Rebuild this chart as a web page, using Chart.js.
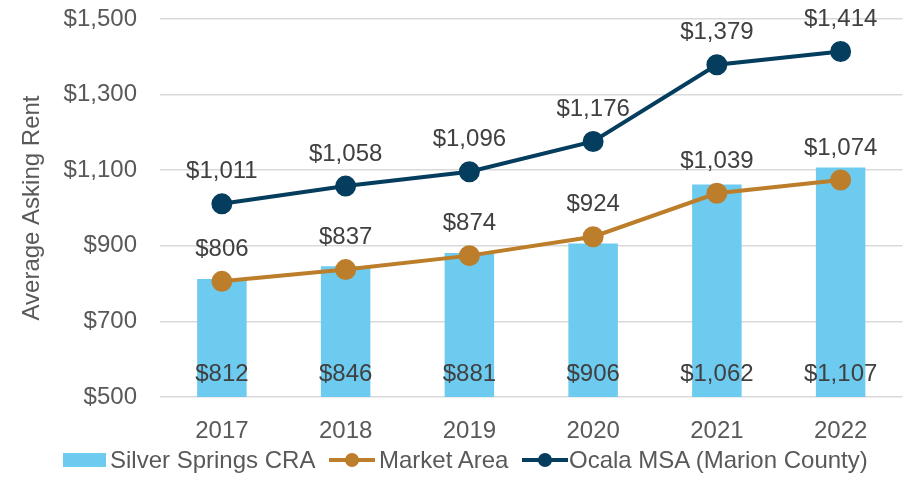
<!DOCTYPE html>
<html><head><meta charset="utf-8">
<script src="https://cdn.jsdelivr.net/npm/chart.js@4/dist/chart.umd.min.js"></script>
<style>
html,body{margin:0;padding:0;background:#fff;}
#wrap{position:relative;width:915px;height:477px;}
#legend{position:absolute;left:0;top:446px;width:915px;height:28px;font-family:"Liberation Sans",Arial,sans-serif;font-size:24px;color:#595959;white-space:nowrap;}
.li{position:absolute;top:0;height:28px;line-height:28px;}
.sw{position:absolute;}
</style></head><body>
<div id="wrap"><canvas id="c" width="915" height="477"></canvas>
<div id="legend">
 <div class="sw" style="left:63px;top:7px;width:43px;height:14px;background:#6DCBF0"></div>
 <div class="li" style="left:110px">Silver Springs CRA</div>
 <div class="sw" style="left:329px;top:12px;width:46px;height:4px;background:#BC7E2A"></div>
 <div class="sw" style="left:345px;top:7px;width:14px;height:14px;border-radius:7px;background:#BC7E2A"></div>
 <div class="li" style="left:379px">Market Area</div>
 <div class="sw" style="left:522px;top:12px;width:46px;height:4px;background:#053D5E"></div>
 <div class="sw" style="left:538px;top:7px;width:14px;height:14px;border-radius:7px;background:#053D5E"></div>
 <div class="li" style="left:569px">Ocala MSA (Marion County)</div>
</div></div>
<script>
const categories = ["2017","2018","2019","2020","2021","2022"];
const silverSprings = [812, 846, 881, 906, 1062, 1107];
const marketArea = [806, 837, 874, 924, 1039, 1074];
const ocalaMSA = [1011, 1058, 1096, 1176, 1379, 1414];
const yTicks = [500, 700, 900, 1100, 1300, 1500];

const fmt = v => "$" + v.toLocaleString("en-US");
const FONT = '"Liberation Sans", Arial, sans-serif';
const FS = 24;

const labelPlugin = {
  id: "labels",
  afterDatasetsDraw(chart) {
    const ctx = chart.ctx;
    ctx.save();
    ctx.font = FS + "px " + FONT;
    ctx.fillStyle = "#404040";
    ctx.textAlign = "center";
    ctx.textBaseline = "middle";
    chart.data.datasets.forEach((ds, i) => {
      const meta = chart.getDatasetMeta(i);
      meta.data.forEach((el, j) => {
        const v = ds.data[j];
        if (ds.type === "bar") {
          ctx.fillText(fmt(v), el.x, chart.scales.y.getPixelForValue(500) - 23);
        } else {
          ctx.fillText(fmt(v), el.x, el.y - 32);
        }
      });
    });
    ctx.restore();
  }
};

new Chart(document.getElementById("c"), {
  data: {
    labels: categories,
    datasets: [
      { type: "line", label: "Ocala MSA (Marion County)", data: ocalaMSA, borderColor: "#053D5E", backgroundColor: "#053D5E", borderWidth: 4, pointRadius: 8.5, pointHoverRadius: 8.5, order: 1 },
      { type: "line", label: "Market Area", data: marketArea, borderColor: "#BC7E2A", backgroundColor: "#BC7E2A", borderWidth: 4, pointRadius: 8.5, pointHoverRadius: 8.5, order: 2 },
      { type: "bar", label: "Silver Springs CRA", data: silverSprings, backgroundColor: "#6DCBF0", barPercentage: 0.4, categoryPercentage: 1.0, order: 3 }
    ]
  },
  options: {
    responsive: false,
    animation: false,
    events: [],
    layout: { padding: { left: 0, right: 9, top: 19, bottom: 30 } },
    plugins: { legend: { display: false }, tooltip: { enabled: false } },
    scales: {
      x: {
        grid: { display: false, drawTicks: false },
        border: { display: false },
        ticks: { font: { family: FONT, size: FS }, color: "#595959", padding: 20 },
        afterFit: s => { s.height = 50; s.paddingLeft = 0; s.paddingRight = 0; }
      },
      y: {
        min: 500, max: 1500,
        afterBuildTicks: s => { s.ticks = yTicks.map(v => ({ value: v })); },
        grid: { color: "#D9D9D9", lineWidth: 1.5, drawTicks: false },
        border: { display: false },
        ticks: { font: { family: FONT, size: FS }, color: "#595959", padding: 23, callback: v => fmt(v) },
        title: { display: true, text: "Average Asking Rent", font: { family: FONT, size: FS }, color: "#595959", padding: { top: 18, bottom: 0 } },
        afterFit: s => { s.width = 160; s.paddingTop = 0; s.paddingBottom = 0; }
      }
    }
  },
  plugins: [labelPlugin]
});
</script></body></html>
